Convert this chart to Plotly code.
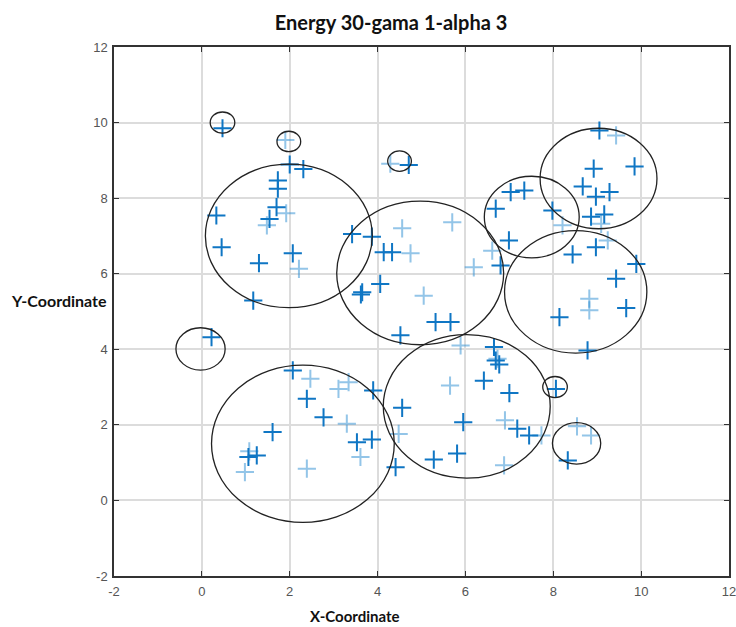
import plotly.graph_objects as go

title_text = "Energy 30-gama 1-alpha 3"

# Sensor points (dark)
dark_x = [0.47, 2.0, 2.31, 1.73, 1.73, 1.70, 1.54, 0.33, 0.45, 2.07, 1.17, 1.30,
          4.71, 3.42, 3.87, 4.14, 4.33, 4.06, 3.65, 3.62, 5.32, 5.66, 4.52, 6.65, 6.80, 6.69, 7.03, 6.99, 7.34,
          9.05, 9.85, 8.92, 8.67, 8.97, 9.28, 8.86, 9.16, 8.97, 8.44, 9.89, 9.43, 8.14, 8.78, 7.98, 9.66,
          2.07, 2.39, 2.77, 1.61, 3.53, 3.87, 1.25, 1.06,
          6.69, 6.77, 6.42, 7.0, 8.06, 3.90, 4.56, 5.95, 7.18, 7.45, 8.33, 4.41, 5.28, 5.81, 0.22]
dark_y = [9.85, 8.89, 8.77, 8.47, 8.25, 7.76, 7.45, 7.54, 6.70, 6.54, 5.29, 6.28,
          8.88, 7.05, 6.98, 6.57, 6.57, 5.73, 5.51, 5.45, 4.72, 4.72, 4.37, 4.06, 6.22, 7.72, 8.16, 6.88, 8.20,
          9.79, 8.84, 8.78, 8.31, 8.04, 8.16, 7.51, 7.57, 6.70, 6.51, 6.26, 5.87, 4.85, 3.97, 7.67, 5.09,
          3.44, 2.69, 2.20, 1.81, 1.54, 1.61, 1.19, 1.15,
          3.70, 3.60, 3.17, 2.84, 2.95, 2.91, 2.45, 2.07, 1.90, 1.72, 1.06, 0.88, 1.08, 1.24, 4.32]

# Sensor points (light)
light_x = [1.9, 1.92, 1.48, 2.21, 4.29, 4.56, 5.70, 4.75, 5.05, 6.19, 5.89, 6.61,
           9.43, 9.09, 9.24, 8.82, 8.82, 8.21, 6.73, 2.47, 3.34, 3.11, 3.30, 3.61,
           0.98, 2.39, 5.65, 6.9, 7.73, 8.54, 8.86, 4.48, 6.88, 1.08]
light_y = [9.54, 7.60, 7.28, 6.13, 8.91, 7.20, 7.36, 6.54, 5.42, 6.17, 4.10, 6.61,
           9.66, 7.32, 6.88, 5.34, 5.03, 7.28, 3.75, 3.22, 3.13, 2.95, 2.03, 1.15,
           0.75, 0.84, 3.04, 2.12, 1.72, 1.96, 1.72, 1.76, 0.93, 1.30]

# Coverage circles
circle_cx = [0.47, 1.98, 4.5, 1.98, 4.97, 9.03, 7.51, 8.51, -0.03, 2.3, 6.03, 8.04, 8.53]
circle_cy = [10.0, 9.5, 8.98, 7.0, 6.02, 8.52, 7.5, 5.52, 4.01, 1.5, 2.49, 3.0, 1.51]
circle_r = [0.28, 0.27, 0.27, 1.9, 1.9, 1.33, 1.08, 1.62, 0.56, 2.08, 1.9, 0.28, 0.55]

x_ticks = [-2, 0, 2, 4, 6, 8, 10, 12]
y_ticks = [-2, 0, 2, 4, 6, 8, 10, 12]

fig = go.Figure()
fig.add_trace(go.Scatter(x=light_x, y=light_y, mode="markers",
                         marker=dict(symbol="cross-thin", size=13,
                                     line=dict(color="rgba(40,140,210,0.5)", width=2)),
                         showlegend=False, hoverinfo="skip"))
fig.add_trace(go.Scatter(x=dark_x, y=dark_y, mode="markers",
                         marker=dict(symbol="cross-thin", size=13,
                                     line=dict(color="#0f76c4", width=2)),
                         showlegend=False, hoverinfo="skip"))

for cx, cy, r in zip(circle_cx, circle_cy, circle_r):
    fig.add_shape(type="circle", xref="x", yref="y",
                  x0=cx - r, x1=cx + r, y0=cy - r, y1=cy + r,
                  line=dict(color="#222222", width=1.3))

axis_common = dict(showgrid=True, gridcolor="#dcdcdc", gridwidth=1.5, zeroline=False,
                   showline=True, linecolor="#333333", linewidth=1.5, mirror="ticks",
                   ticks="inside", ticklen=5, tickcolor="#333333", automargin=False,
                   ticklabeloverflow="allow",
                   tickfont=dict(family="Liberation Sans, Arial", size=13, color="#555555"))

fig.update_xaxes(range=[-2, 12], tickvals=x_ticks, ticktext=[str(v) for v in x_ticks],
                 ticklabelstandoff=3, **axis_common)
fig.update_yaxes(range=[-2, 12], tickvals=y_ticks, ticktext=[str(v) for v in y_ticks],
                 ticklabelstandoff=2, **axis_common)

fig.update_layout(
    width=736, height=627,
    margin=dict(l=114, r=7, t=47, b=51),
    paper_bgcolor="white", plot_bgcolor="white",
    title=dict(text="<b>" + title_text + "</b>", x=391 / 736, xanchor="center",
               y=1 - 23 / 627, yanchor="middle",
               font=dict(family="Lato, Open Sans", size=20, color="#111111")),
    annotations=[
        dict(text="<b>X-Coordinate</b>", xref="paper", yref="paper",
             x=(355 - 114) / (736 - 114 - 7), y=-(616 - 576) / (627 - 47 - 51),
             xanchor="center", yanchor="middle", showarrow=False,
             font=dict(family="Lato, Open Sans", size=15, color="#111111")),
        dict(text="<b>Y-Coordinate</b>", xref="paper", yref="paper",
             x=-(114 - 109) / (736 - 114 - 7), y=(576 - 300) / (627 - 47 - 51),
             xanchor="right", yanchor="middle", showarrow=False,
             font=dict(family="Lato, Open Sans", size=16, color="#111111")),
    ],
)

fig.write_html("out.html", config={"displayModeBar": False},
               post_script="document.body.style.margin='0';")
